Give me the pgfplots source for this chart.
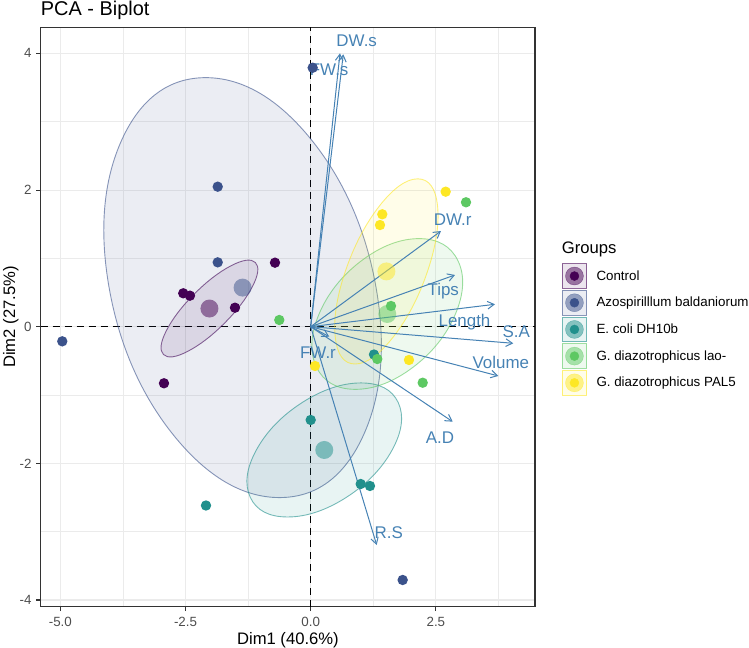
\documentclass[border=0pt]{standalone}
\usepackage{fontspec}
\setmainfont{Liberation Sans}
\usepackage{pgfplots}
\pgfplotsset{compat=1.18}
\usetikzlibrary{arrows.meta}
\definecolor{ctrl}{HTML}{440154}
\definecolor{azo}{HTML}{3B528B}
\definecolor{eco}{HTML}{21908C}
\definecolor{lao}{HTML}{5DC863}
\definecolor{pal}{HTML}{FDE725}
\definecolor{sb}{HTML}{4682B4}
\definecolor{gridc}{HTML}{EBEBEB}
\definecolor{grey20}{HTML}{333333}
\definecolor{grey30}{HTML}{4D4D4D}
\pgfplotsset{
  ell/.style={smooth cycle, tension=0.7, draw=#1, draw opacity=0.6, fill=#1, fill opacity=0.1, line width=0.9bp, forget plot},
  pts/.style={color=#1, only marks, mark=*, mark size=5.2bp, mark options={draw opacity=0, fill=#1}, forget plot},
  ctr/.style={color=#1, only marks, mark=*, mark size=9bp, mark options={draw opacity=0, fill=#1, fill opacity=0.5}, forget plot},
  arr/.style={draw=sb, line width=1bp, -{Straight Barb[length=6.5bp, width=7.6bp]}, forget plot},
  grpkey/.style={legend image code/.code={
     \draw[draw=#1, draw opacity=0.6, fill=#1, fill opacity=0.1, line width=0.9bp] (0bp,-12.3bp) rectangle (24.6bp,12.3bp);
     \fill[#1, opacity=0.5] (12.3bp,0bp) circle[radius=9bp];
     \fill[#1] (12.3bp,0bp) circle[radius=4.5bp];
  }},
}
\newcommand{\alab}[3]{\node[text=sb, font=\fontsize{17}{20}\selectfont, anchor=base, inner sep=0pt] at (axis cs:#1,#2) {#3};}
\begin{document}
\begin{tikzpicture}
\useasboundingbox (0,0) rectangle (749bp,648bp);
\begin{axis}[
  at={(40.7bp,41.3bp)}, anchor=south west,
  scale only axis, width=494.3bp, height=579.4bp,
  xmin=-5.392, xmax=4.480, ymin=-4.098, ymax=4.382,
  xtick={-5,-2.5,0,2.5}, xticklabels={-5.0,-2.5,0.0,2.5},
  ytick={-4,-2,0,2,4}, yticklabels={-4,-2,0,2,4},
  minor xtick={-3.75,-1.25,1.25,3.75}, minor ytick={-3,-1,1,3},
  grid=both,
  major grid style={draw=gridc, line width=1.07bp},
  minor grid style={draw=gridc, line width=0.53bp},
  tick pos=left, tick align=outside,
  major tick length=4.3bp, minor tick length=0bp,
  tick style={draw=grey20, line width=1.07bp},
  axis line style={draw=grey20, line width=1.07bp},
  xticklabel style={font=\fontsize{13.4}{16}\selectfont, text=grey30, anchor=north, inner sep=0pt},
  yticklabel style={font=\fontsize{13.4}{16}\selectfont, text=grey30, anchor=east, inner sep=0pt},
  xticklabel shift=6bp, yticklabel shift=4.7bp,
  legend style={at={(1.0540,0.5927)}, anchor=north west, draw=none, fill=none, inner sep=0pt, outer sep=0pt,
     /tikz/row sep=1.2bp, /tikz/column sep=9.3bp, font=\fontsize{13.4}{16}\selectfont, nodes={inner sep=0pt}},
  legend cell align=left,
]
% zero lines
\addplot[black, line width=1.07bp, dash pattern=on 7bp off 5bp, forget plot] coordinates {(-5.392,0) (4.48,0)};
\addplot[black, line width=1.07bp, dash pattern=on 7bp off 5bp, forget plot] coordinates {(0,-4.098) (0,4.382)};
% ellipses
\addplot[ell=ctrl] coordinates {(-1.104,0.939) (-1.163,0.588) (-1.725,0.049) (-2.461,-0.363) (-2.940,-0.407) (-2.881,-0.056) (-2.319,0.483) (-1.583,0.895)};
\addplot[ell=azo] coordinates {(-0.623,-2.501) (1.046,-1.601) (1.306,0.572) (0.004,2.745) (-2.097,3.645) (-3.766,2.745) (-4.026,0.572) (-2.724,-1.601)};
\addplot[ell=eco] coordinates {(-0.462,-2.785) (0.712,-2.498) (1.627,-1.804) (1.748,-1.110) (1.004,-0.823) (-0.170,-1.110) (-1.085,-1.804) (-1.206,-2.498)};
\addplot[ell=lao] coordinates {(0.894,-0.917) (2.043,-0.594) (2.891,0.186) (2.941,0.966) (2.164,1.289) (1.015,0.966) (0.167,0.186) (0.117,-0.594)};
\addplot[ell=pal] coordinates {(0.887,-0.546) (1.651,-0.149) (2.333,0.809) (2.534,1.767) (2.137,2.164) (1.373,1.767) (0.691,0.809) (0.490,-0.149)};
% individuals
\addplot[pts=ctrl] coordinates {(-2.545,0.489) (-2.411,0.454) (-1.512,0.278) (-0.713,0.937) (-2.930,-0.828)};
\addplot[pts=azo] coordinates {(0.040,3.790) (-1.857,2.049) (-1.857,0.942) (1.837,-3.707) (-4.961,-0.214)};
\addplot[pts=eco] coordinates {(0.000,-1.365) (0.999,-2.302) (1.184,-2.331) (-2.091,-2.617) (1.264,-0.407)};
\addplot[pts=lao] coordinates {(-0.627,0.098) (1.330,-0.473) (2.237,-0.820) (1.604,0.303) (3.102,1.821)};
\addplot[pts=pal] coordinates {(2.696,1.976) (1.430,1.645) (1.384,1.488) (0.086,-0.575) (1.963,-0.487)};
% group means
\addplot[ctr=ctrl] coordinates {(-2.022,0.266)};
\addplot[ctr=azo] coordinates {(-1.360,0.572)};
\addplot[ctr=eco] coordinates {(0.271,-1.804)};
\addplot[ctr=lao] coordinates {(1.529,0.186)};
\addplot[ctr=pal] coordinates {(1.512,0.809)};
% variable arrows
\addplot[arr] coordinates {(0,0) (0.651,3.987)};
\addplot[arr] coordinates {(0,0) (0.585,4.001)};
\addplot[arr] coordinates {(0,0) (2.602,1.400)};
\addplot[arr] coordinates {(0,0) (2.882,0.757)};
\addplot[arr] coordinates {(0,0) (3.681,0.328)};
\addplot[arr] coordinates {(0,0) (4.046,-0.243)};
\addplot[arr] coordinates {(0,0) (3.747,-0.721)};
\addplot[arr] coordinates {(0,0) (2.836,-1.390)};
\addplot[arr] coordinates {(0,0) (1.318,-3.195)};
\addplot[arr] coordinates {(0,0) (0.371,-0.146)};
\alab{0.919}{4.098}{DW.s}
\alab{0.369}{3.683}{FW.s}
\alab{2.836}{1.488}{DW.r}
\alab{2.648}{0.454}{Tips}
\alab{3.072}{0.010}{Length}
\alab{4.107}{-0.155}{S.A}
\alab{3.797}{-0.619}{Volume}
\alab{2.582}{-1.706}{A.D}
\alab{1.558}{-3.097}{R.S}
\alab{0.146}{-0.462}{FW.r}
% legend
\addlegendimage{grpkey=ctrl}\addlegendentry{Control}
\addlegendimage{grpkey=azo}\addlegendentry{Azospirilllum baldaniorum}
\addlegendimage{grpkey=eco}\addlegendentry{E. coli DH10b}
\addlegendimage{grpkey=lao}\addlegendentry{G. diazotrophicus lao-}
\addlegendimage{grpkey=pal}\addlegendentry{G. diazotrophicus PAL5}
\end{axis}
\node[anchor=base west, inner sep=0pt, font=\fontsize{20}{24}\selectfont] at (40.7bp,632.5bp) {PCA - Biplot};
\node[anchor=base, inner sep=0pt, font=\fontsize{16.7}{20}\selectfont] at (287.9bp,3.5bp) {Dim1 (40.6\%)};
\node[anchor=base, rotate=90, inner sep=0pt, font=\fontsize{16.7}{20}\selectfont] at (15bp,331bp) {Dim2 (27.5\%)};
\node[anchor=base west, inner sep=0pt, font=\fontsize{16.7}{20}\selectfont] at (561.7bp,394.7bp) {Groups};
\end{tikzpicture}
\end{document}
